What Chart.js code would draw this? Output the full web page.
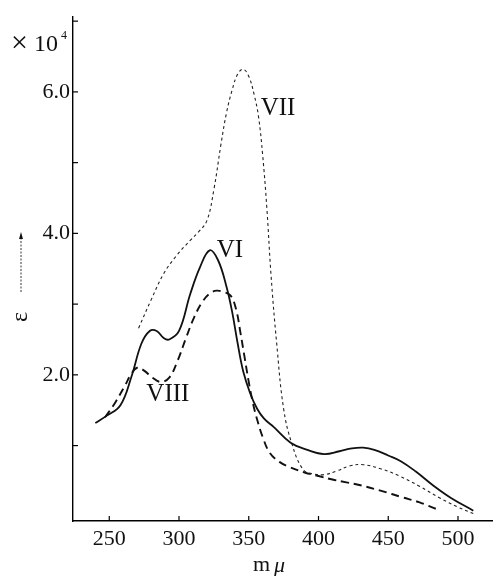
<!DOCTYPE html>
<html>
<head>
<meta charset="utf-8">
<script src="https://cdn.jsdelivr.net/npm/chart.js@4/dist/chart.umd.min.js"></script>
<style>
  body { margin: 0; background: #fff; }
  #wrap { width: 493px; height: 576px; position: relative; }
</style>
</head>
<body>
<div id="wrap"><canvas id="myChart" width="493" height="576"></canvas></div>
<script>
// wavelengths (m mu) and epsilon (x10^4) per compound
const viNm  = [240, 248, 258, 266, 273, 279, 284, 289, 293, 300, 308, 315, 322, 328, 334, 338, 342, 346, 351, 356, 361, 368, 380, 392, 404, 415, 424, 432, 440, 450, 459, 470, 482, 495, 511];
const viEps = [1.32, 1.42, 1.57, 1.98, 2.44, 2.62, 2.62, 2.52, 2.50, 2.62, 3.14, 3.52, 3.76, 3.62, 3.25, 2.90, 2.45, 2.05, 1.74, 1.52, 1.38, 1.26, 1.04, 0.94, 0.88, 0.92, 0.96, 0.97, 0.94, 0.86, 0.78, 0.63, 0.44, 0.26, 0.08];

const viiNm  = [271, 280, 289, 298, 308, 314, 320, 325, 330, 334, 338, 342, 346, 350, 354, 357, 360, 363, 366, 370, 375, 381, 389, 396, 404, 413, 422, 432, 445, 458, 472, 487, 500, 512];
const viiEps = [2.66, 3.06, 3.43, 3.68, 3.90, 4.02, 4.18, 4.62, 5.25, 5.70, 6.02, 6.25, 6.32, 6.22, 5.95, 5.65, 5.10, 4.35, 3.40, 2.45, 1.52, 1.02, 0.66, 0.60, 0.59, 0.64, 0.71, 0.73, 0.67, 0.57, 0.43, 0.26, 0.13, 0.03];

const viiiNm  = [247, 254, 261, 266, 270, 275, 281, 287, 293, 299, 305, 311, 317, 322, 327, 332, 337, 341, 344, 347, 350, 353, 356, 360, 365, 372, 380, 390, 400, 410, 420, 430, 445, 460, 472, 485];
const viiiEps = [1.40, 1.60, 1.84, 2.02, 2.10, 2.06, 1.96, 1.90, 1.96, 2.20, 2.52, 2.82, 3.04, 3.15, 3.19, 3.17, 3.12, 2.92, 2.60, 2.25, 1.90, 1.60, 1.37, 1.12, 0.90, 0.77, 0.69, 0.62, 0.57, 0.52, 0.48, 0.44, 0.36, 0.27, 0.20, 0.10];

const xTicks = [250, 300, 350, 400, 450, 500];
const yTicks = [1, 2, 3, 4, 5, 6, 7];
const yLabelled = [2, 4, 6];

// curve names and where they sit (data coords)
const curveNames = ['VI', 'VII', 'VIII'];
const nameNm = [336.5, 371, 292];
const nameEps = [3.76, 5.77, 1.72];

const serif = '"Liberation Serif", "DejaVu Serif", serif';

function toPoints(xs, ys) {
  return xs.map((x, i) => ({ x: x, y: ys[i] }));
}

// extra drawing: inward ticks, unit label, epsilon + arrow, curve names
const decorations = {
  id: 'decorations',
  afterDraw(chart) {
    const ctx = chart.ctx;
    const xs = chart.scales.x;
    const ys = chart.scales.y;
    const area = chart.chartArea;
    ctx.save();
    ctx.strokeStyle = '#000';
    ctx.fillStyle = '#111';
    ctx.lineWidth = 1.2;

    // inward ticks
    xTicks.forEach(v => {
      const px = xs.getPixelForValue(v);
      ctx.beginPath();
      ctx.moveTo(px, area.bottom);
      ctx.lineTo(px, area.bottom - 5);
      ctx.stroke();
    });
    yTicks.forEach(v => {
      const py = ys.getPixelForValue(v);
      ctx.beginPath();
      ctx.moveTo(area.left, py);
      ctx.lineTo(area.left + 5, py);
      ctx.stroke();
    });

    // x10^4
    ctx.textBaseline = 'alphabetic';
    ctx.textAlign = 'left';
    ctx.font = '30px ' + serif;
    ctx.fillText('\u00d7', 11, 52);
    ctx.font = '24px ' + serif;
    ctx.fillText('10', 34, 51);
    ctx.font = '12px ' + serif;
    ctx.fillText('4', 61, 39);

    // epsilon with arrow
    ctx.save();
    ctx.translate(21, 317);
    ctx.rotate(-Math.PI / 2);
    ctx.font = '24px ' + serif;
    ctx.textAlign = 'center';
    ctx.textBaseline = 'middle';
    ctx.fillText('\u03b5', 0, 0);
    ctx.restore();
    ctx.lineWidth = 0.8;
    ctx.setLineDash([2, 1.5]);
    ctx.beginPath();
    ctx.moveTo(21, 292);
    ctx.lineTo(21, 237);
    ctx.stroke();
    ctx.setLineDash([]);
    ctx.beginPath();
    ctx.moveTo(21, 232);
    ctx.lineTo(19, 239);
    ctx.lineTo(23, 239);
    ctx.closePath();
    ctx.fill();

    // x axis title: m (upright) mu (italic)
    ctx.textBaseline = 'middle';
    ctx.textAlign = 'left';
    ctx.font = '22px ' + serif;
    ctx.fillText('m', 253, 565);
    ctx.font = 'italic 22px ' + serif;
    ctx.fillText('\u03bc', 274, 566);

    // curve names
    ctx.font = '25px ' + serif;
    ctx.textAlign = 'center';
    curveNames.forEach((name, i) => {
      ctx.fillText(name, xs.getPixelForValue(nameNm[i]), ys.getPixelForValue(nameEps[i]));
    });
    ctx.restore();
  }
};

const config = {
  type: 'line',
  data: {
    datasets: [
      {
        label: 'VI',
        data: toPoints(viNm, viEps),
        borderColor: '#111',
        borderWidth: 1.8
      },
      {
        label: 'VII',
        data: toPoints(viiNm, viiEps),
        borderColor: '#222',
        borderWidth: 1.1,
        borderDash: [3, 3]
      },
      {
        label: 'VIII',
        data: toPoints(viiiNm, viiiEps),
        borderColor: '#111',
        borderWidth: 1.9,
        borderDash: [8, 5]
      }
    ]
  },
  options: {
    responsive: false,
    animation: false,
    devicePixelRatio: 1,
    layout: { padding: { top: 15, right: 0, left: 0, bottom: 0 } },
    elements: {
      point: { radius: 0 },
      line: { tension: 0.4, fill: false }
    },
    plugins: {
      legend: { display: false },
      tooltip: { enabled: false }
    },
    scales: {
      x: {
        type: 'linear',
        min: 224,
        max: 525.1,
        afterFit: s => { s.height = 55; },
        afterBuildTicks: s => { s.ticks = xTicks.map(v => ({ value: v })); },
        grid: { display: false, drawTicks: false },
        border: { display: true, color: '#000', width: 1.4 },
        ticks: {
          color: '#111',
          padding: 5,
          maxRotation: 0,
          font: { family: serif, size: 22 }
        }
      },
      y: {
        type: 'linear',
        min: -0.066,
        max: 7.07,
        afterFit: s => { s.width = 73; },
        afterBuildTicks: s => { s.ticks = yTicks.map(v => ({ value: v })); },
        grid: { display: false, drawTicks: false },
        border: { display: true, color: '#000', width: 1.4 },
        ticks: {
          color: '#111',
          padding: 3,
          font: { family: serif, size: 22 },
          callback: v => yLabelled.includes(v) ? v.toFixed(1) : ''
        }
      }
    }
  },
  plugins: [decorations]
};

const myChart = new Chart(document.getElementById('myChart'), config);
</script>
</body>
</html>
